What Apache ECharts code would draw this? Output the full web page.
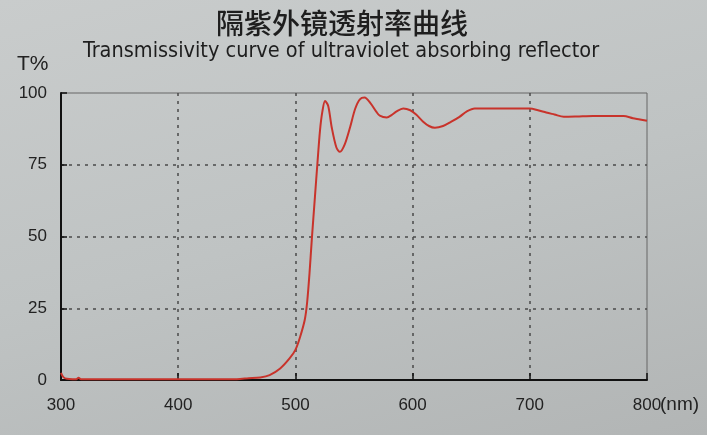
<!DOCTYPE html>
<html>
<head>
<meta charset="utf-8">
<script src="https://cdn.jsdelivr.net/npm/echarts@6/dist/echarts.min.js"></script>
<style>
html,body{margin:0;padding:0;width:707px;height:435px;overflow:hidden;}
body{background:linear-gradient(165deg,#c9cccc 0%,#bfc3c3 50%,#b2b5b5 100%);}
#c{width:707px;height:435px;}
</style>
</head>
<body>
<div id="c"></div>
<script>
const titleCN = "隔紫外镜透射率曲线";
const titleEN = "Transmissivity curve of ultraviolet absorbing reflector";
const yName = "T%";
const xUnit = "(nm)";
const xTicks = [300, 400, 500, 600, 700, 800];
const yTicks = [0, 25, 50, 75, 100];
const wavelength = [300,302,305,310,313,315,317,322,330,350,400,450,460,470,478,487,495,500,504,508,510,512,514,516.7,518.7,521,523,525.3,528,531,535,538,542,546.6,551,555,559,564,569,572,578,582,586,592,598,603,609,614,619,626,633,640,646,653,660,700,707,714,721,729,740,754,770,780,788,794,800];
const transmit = [2.5,1,0.4,0.3,0.3,0.8,0.3,0.3,0.3,0.3,0.3,0.3,0.6,0.9,1.7,4,7.5,10.5,15,21,27,37,49,64,75,87,93.5,97.2,95.5,88,81,79.5,82,88,94.5,97.8,98.4,96.5,93.5,92.1,91.5,92.3,93.5,94.6,94,92.5,90,88.5,87.9,88.5,90,91.7,93.5,94.6,94.6,94.6,94,93.2,92.5,91.7,91.8,92,92,92,91.2,90.8,90.3];

const chart = echarts.init(document.getElementById('c'), null, {renderer:'canvas'});
const data = wavelength.map((w,i)=>[w, transmit[i]]);
chart.setOption({
  backgroundColor: 'transparent',
  animation: false,
  title: [
    {text: titleCN, left: 216, top: 9, padding: 0, textStyle:{fontFamily:'Noto Sans CJK SC', fontSize:28, fontWeight:500, color:'#1e1e1e'}},
    {text: titleEN, left: 83, top: 40, padding: 0, textStyle:{fontFamily:'"DejaVu Sans Condensed", "Liberation Sans"', fontSize:21.5, fontWeight:'normal', color:'#1e1e1e'}},
    {text: yName, left: 17, top: 54, padding: 0, textStyle:{fontFamily:'"Liberation Sans"', fontSize:21, fontWeight:'normal', color:'#222'}}
  ],
  grid: {left: 61, right: 60, top: 93, bottom: 55, show: true, borderColor: '#666', borderWidth: 1, backgroundColor:'transparent'},
  xAxis: {
    type: 'value', min: 300, max: 800, interval: 100,
    name: xUnit, nameLocation: 'end', nameGap: 13, nameMoveOverlap: false,
    nameTextStyle: {fontFamily:'Liberation Sans', fontSize:19, color:'#222', verticalAlign:'top', padding:[15,0,0,0]},
    axisLine: {show: true, lineStyle: {color: '#111', width: 2}},
    axisTick: {show: true, inside: true, length: 7, lineStyle: {color: '#111', width: 1.5}},
    axisLabel: {fontFamily:'Liberation Sans', fontSize:17, color:'#222', margin: 17,
      formatter: v => xTicks.includes(v) ? String(v) : ''},
    splitLine: {show: true, showMinLine:false, showMaxLine:false, lineStyle: {color: '#4a4a4a', type: [3,5], width: 1.5}}
  },
  yAxis: {
    type: 'value', min: 0, max: 100, interval: 25,
    axisLine: {show: true, lineStyle: {color: '#111', width: 2}},
    axisTick: {show: true, inside: true, length: 6, lineStyle: {color: '#111', width: 1.5}},
    axisLabel: {fontFamily:'Liberation Sans', fontSize:17, color:'#222', margin: 14,
      formatter: v => yTicks.includes(v) ? String(v) : ''},
    splitLine: {show: true, showMinLine:false, showMaxLine:false, lineStyle: {color: '#4a4a4a', type: [3,5], width: 1.5}}
  },
  series: [{
    type: 'line', data: data, showSymbol: false, smooth: 0.3,
    lineStyle: {color: '#c8332b', width: 2}
  }]
});
</script>
</body>
</html>
